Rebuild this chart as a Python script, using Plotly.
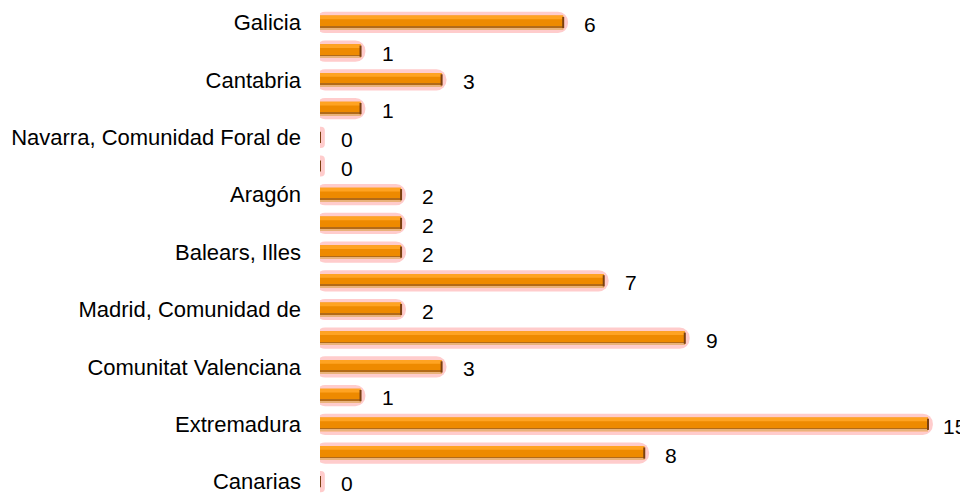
import plotly.graph_objects as go

categories = [
    "Galicia", "Asturias, Principado de", "Cantabria", "País Vasco",
    "Navarra, Comunidad Foral de", "Rioja, La", "Aragón", "Cataluña",
    "Balears, Illes", "Castilla y León", "Madrid, Comunidad de",
    "Castilla - La Mancha", "Comunitat Valenciana", "Murcia, Región de",
    "Extremadura", "Andalucía", "Canarias",
]
values = [6, 1, 3, 1, 0, 0, 2, 2, 2, 7, 2, 9, 3, 1, 15, 8, 0]
tick_labels = categories[::2]

FONT = "Liberation Sans, Arial, sans-serif"
fig = go.Figure()

# pink outline
fig.add_trace(go.Bar(
    y=categories, x=[v + 0.24 for v in values], base=[-0.12] * len(values),
    orientation="h", width=0.74, marker=dict(color="#ffcccc", line=dict(width=0), cornerradius="50%"),
    hoverinfo="skip", showlegend=False))
# orange body
fig.add_trace(go.Bar(
    y=categories, x=values, orientation="h", width=0.48,
    marker=dict(color="#ee8a00", line=dict(width=0)),
    hovertemplate="%{y}: %{x}<extra></extra>", showlegend=False))
# top highlight
fig.add_trace(go.Bar(
    y=categories, x=values, orientation="h", width=0.13, offset=-0.24,
    marker=dict(color="#ffa322", line=dict(width=0)),
    hoverinfo="skip", showlegend=False))
# dark stripe
fig.add_trace(go.Bar(
    y=categories, x=values, orientation="h", width=0.055, offset=0.14,
    marker=dict(color="#b26a18", line=dict(width=0)),
    hoverinfo="skip", showlegend=False))
# light line under stripe
fig.add_trace(go.Bar(
    y=categories, x=values, orientation="h", width=0.04, offset=0.195,
    marker=dict(color="#e9b27a", line=dict(width=0)),
    hoverinfo="skip", showlegend=False))
# end cap
fig.add_trace(go.Scatter(
    y=categories, x=values, mode="markers",
    marker=dict(symbol="line-ns", size=8, color="#7a4010", line=dict(width=2, color="#7a4010")),
    hoverinfo="skip", showlegend=False))

annotations = [
    dict(x=v, y=c, text=str(v), showarrow=False, xshift=27, yshift=-2, xanchor="center",
         font=dict(family=FONT, size=21, color="#000000"))
    for c, v in zip(categories, values)
]

# page body has an 8px margin, so the figure is laid out 8px smaller
fig.update_layout(
    width=960, height=487,
    margin=dict(l=312, r=30, t=0, b=0, autoexpand=False),
    paper_bgcolor="white", plot_bgcolor="white",
    barmode="overlay",
    annotations=annotations,
    xaxis=dict(range=[0, 15.247], visible=False, fixedrange=True, automargin=False),
    yaxis=dict(type="category", categoryorder="array", categoryarray=categories,
               range=[16.463, -0.505], tickvals=tick_labels, ticktext=tick_labels,
               showgrid=False, zeroline=False, showline=False, ticks="",
               automargin=False, ticklabelstandoff=18,
               tickfont=dict(family=FONT, size=22, color="#000000")),
)
fig.write_html("out.html")
